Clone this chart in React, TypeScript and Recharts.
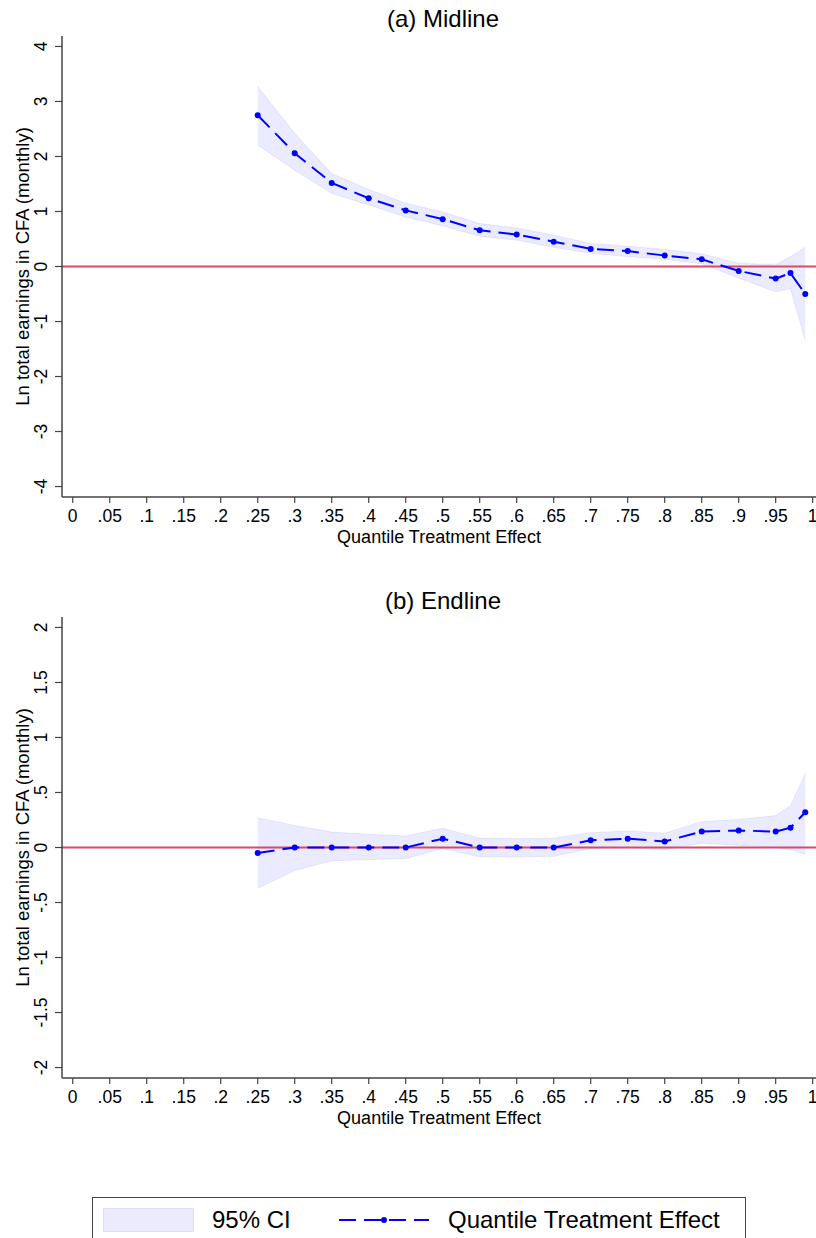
import { ComposedChart, Area, Line, XAxis, YAxis, ReferenceLine } from 'recharts';

const quantiles = [0.25, 0.3, 0.35, 0.4, 0.45, 0.5, 0.55, 0.6, 0.65, 0.7, 0.75, 0.8, 0.85, 0.9, 0.95, 0.97, 0.99];

const midlineQte = [2.75, 2.06, 1.52, 1.24, 1.02, 0.86, 0.66, 0.58, 0.45, 0.32, 0.28, 0.2, 0.13, -0.08, -0.22, -0.12, -0.5];
const midlineHigh = [3.27, 2.42, 1.69, 1.4, 1.15, 0.99, 0.78, 0.7, 0.57, 0.42, 0.37, 0.31, 0.23, 0.06, 0.03, 0.18, 0.35];
const midlineLow = [2.21, 1.75, 1.33, 1.12, 0.9, 0.74, 0.55, 0.48, 0.35, 0.24, 0.18, 0.13, 0.05, -0.21, -0.46, -0.4, -1.34];

const endlineQte = [-0.05, 0, 0, 0, 0, 0.08, 0, 0, 0, 0.065, 0.08, 0.055, 0.145, 0.155, 0.145, 0.18, 0.32];
const endlineHigh = [0.27, 0.2, 0.14, 0.12, 0.105, 0.175, 0.085, 0.08, 0.085, 0.135, 0.15, 0.13, 0.235, 0.255, 0.29, 0.38, 0.67];
const endlineLow = [-0.37, -0.21, -0.12, -0.11, -0.1, -0.01, -0.085, -0.085, -0.08, -0.01, 0, -0.02, 0.04, 0.02, 0, -0.02, -0.06];

const xTicks = [0, 0.05, 0.1, 0.15, 0.2, 0.25, 0.3, 0.35, 0.4, 0.45, 0.5, 0.55, 0.6, 0.65, 0.7, 0.75, 0.8, 0.85, 0.9, 0.95, 1];
const midlineYTicks = [-4, -3, -2, -1, 0, 1, 2, 3, 4];
const endlineYTicks = [-2, -1.5, -1, -0.5, 0, 0.5, 1, 1.5, 2];

const FONT = '"Liberation Sans", Arial, sans-serif';
const BLUE = '#0000ff';
const TICK_FS = 17.5;
const TITLE_FS = 18;

// Stata style labels: ".05", "-.5"
const stataFmt = (v: number) => {
  const s = String(Math.abs(Math.round(v * 1000) / 1000)).replace(/^0\./, '.');
  return v < 0 ? '-' + s : s;
};

const buildRows = (qte: number[], low: number[], high: number[]) =>
  quantiles.map((q, i) => ({ q, qte: qte[i], ci: [low[i], high[i]] }));

function RotatedTick(props: any) {
  const { x, y, payload } = props;
  const cx = x - 12;
  return (
    <text
      x={cx}
      y={y}
      transform={`rotate(-90 ${cx} ${y})`}
      textAnchor="middle"
      dominantBaseline="central"
      fontSize={TICK_FS}
      fontFamily={FONT}
      fill="#000"
    >
      {stataFmt(payload.value)}
    </text>
  );
}

interface PanelProps {
  rows: { q: number; qte: number; ci: number[] }[];
  yDomain: [number, number];
  yTicks: number[];
  height: number;
  top: number;
}

function Panel({ rows, yDomain, yTicks, height, top }: PanelProps) {
  return (
    <ComposedChart
      width={816}
      height={height}
      data={rows}
      margin={{ top, right: 0, left: 0, bottom: 0 }}
    >
      <XAxis
        xAxisId="frame"
        orientation="top"
        type="number"
        domain={[-0.0145, 1.0045]}
        allowDataOverflow
        tick={false}
        tickLine={false}
        height={0}
        axisLine={{ stroke: '#777', strokeWidth: 1.5 }}
      />
      <XAxis
        dataKey="q"
        type="number"
        domain={[-0.0145, 1.0045]}
        allowDataOverflow
        ticks={xTicks}
        tickFormatter={stataFmt}
        interval={0}
        tickSize={6}
        tickMargin={7}
        height={54}
        axisLine={{ stroke: '#444', strokeWidth: 1.5 }}
        tickLine={{ stroke: '#444', strokeWidth: 1.2 }}
        tick={{ fontSize: TICK_FS, fontFamily: FONT, fill: '#000' }}
        label={{
          value: 'Quantile Treatment Effect',
          position: 'insideBottom',
          offset: 8,
          style: { fontSize: TITLE_FS, fontFamily: FONT, fill: '#000' },
        }}
      />
      <YAxis
        type="number"
        domain={yDomain}
        allowDataOverflow
        ticks={yTicks}
        width={62}
        tickSize={7}
        axisLine={{ stroke: '#444', strokeWidth: 1.5 }}
        tickLine={{ stroke: '#444', strokeWidth: 1.2 }}
        tick={<RotatedTick />}
        label={{
          value: 'Ln total earnings in CFA (monthly)',
          angle: -90,
          position: 'insideLeft',
          offset: 22,
          style: { textAnchor: 'middle', fontSize: 18.5, fontFamily: FONT, fill: '#000' },
        }}
      />
      <ReferenceLine y={0} xAxisId={0} stroke="#d84a66" strokeWidth={2} />
      <Area
        dataKey="ci"
        type="linear"
        fill={BLUE}
        fillOpacity={0.08}
        stroke={BLUE}
        strokeOpacity={0.08}
        isAnimationActive={false}
        activeDot={false}
      />
      <Line
        dataKey="qte"
        type="linear"
        stroke={BLUE}
        strokeWidth={2}
        strokeDasharray="17 8"
        dot={{ r: 3, fill: BLUE, stroke: BLUE, strokeWidth: 0, strokeDasharray: '0' }}
        activeDot={false}
        isAnimationActive={false}
      />
    </ComposedChart>
  );
}

const titleStyle: React.CSSProperties = {
  position: 'absolute',
  left: 343,
  width: 200,
  textAlign: 'center',
  fontFamily: FONT,
  fontSize: 24,
  lineHeight: '26px',
  color: '#000',
};

export default function App() {
  const midRows = buildRows(midlineQte, midlineLow, midlineHigh);
  const endRows = buildRows(endlineQte, endlineLow, endlineHigh);
  return (
    <div style={{ position: 'absolute', left: 0, top: 0, width: 816, height: 1238, overflow: 'hidden', background: '#fff' }}>
      <div style={{ ...titleStyle, top: 6 }}>(a) Midline</div>
      <div style={{ position: 'absolute', left: 0, top: 0 }}>
        <Panel rows={midRows} yDomain={[-4.19, 4.19]} yTicks={midlineYTicks} height={551} top={36} />
      </div>
      <div style={{ ...titleStyle, top: 588 }}>(b) Endline</div>
      <div style={{ position: 'absolute', left: 0, top: 580 }}>
        <Panel rows={endRows} yDomain={[-2.095, 2.095]} yTicks={endlineYTicks} height={552} top={37} />
      </div>
      {/* legend */}
      <div
        style={{
          position: 'absolute',
          left: 92,
          top: 1197,
          width: 652,
          height: 50,
          border: '1px solid #444',
          fontFamily: FONT,
          fontSize: 24,
          color: '#000',
        }}
      >
        <div
          style={{
            position: 'absolute',
            left: 10,
            top: 10,
            width: 89,
            height: 22,
            background: '#ebebfd',
            border: '1px solid #dedefa',
          }}
        />
        <div style={{ position: 'absolute', left: 119, top: 8, lineHeight: '28px' }}>95% CI</div>
        <svg style={{ position: 'absolute', left: 246, top: 14 }} width={92} height={16}>
          <line x1={0} y1={8} x2={90} y2={8} stroke={BLUE} strokeWidth={2} strokeDasharray="17 8" />
          <circle cx={45} cy={8} r={3} fill={BLUE} />
        </svg>
        <div style={{ position: 'absolute', left: 355, top: 8, lineHeight: '28px' }}>Quantile Treatment Effect</div>
      </div>
    </div>
  );
}
